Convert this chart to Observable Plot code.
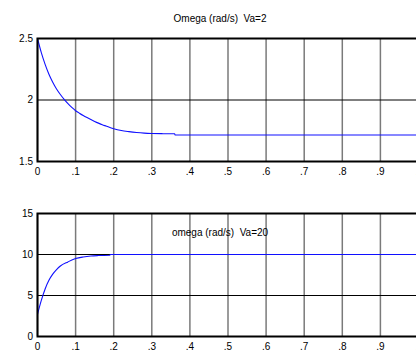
<!DOCTYPE html>
<html>
<head>
<meta charset="utf-8">
<script src="https://cdn.jsdelivr.net/npm/d3@7"></script>
<script src="https://cdn.jsdelivr.net/npm/@observablehq/plot@0.6"></script>
<style>
  html, body { margin: 0; padding: 0; background: #fff; overflow: hidden; width: 416px; height: 352px; }
  svg { display: block; max-width: none !important; }
  svg text { white-space: pre; }
</style>
</head>
<body>
<div id="chart"></div>
<script>
// ---- data ----
const titleTop = "Omega (rad/s)  Va=2";
const titleBottom = "omega (rad/s)  Va=20";

const tTop =     [0,   0.01,  0.02, 0.03, 0.04,  0.05, 0.06,  0.07,  0.08, 0.09, 0.1,   0.11,  0.12,  0.13,  0.14,  0.15,  0.16,  0.17,  0.18,  0.19,  0.2,   0.22,  0.24,  0.26,  0.28,  0.3,   0.33,  0.36,  0.361, 0.6,   1.0];
const omegaTop = [2.5, 2.385, 2.29, 2.21, 2.145, 2.09, 2.045, 2.005, 1.97, 1.94, 1.913, 1.893, 1.874, 1.857, 1.841, 1.826, 1.812, 1.799, 1.788, 1.777, 1.767, 1.752, 1.743, 1.736, 1.731, 1.728, 1.726, 1.725, 1.716, 1.716, 1.716];

const tBottom =     [0,   0.01, 0.02, 0.03, 0.04, 0.05, 0.06, 0.08, 0.1, 0.12, 0.14, 0.16, 0.19, 0.191, 0.6, 1.0];
const omegaBottom = [2.7, 4.4,  5.8,  6.85, 7.6,  8.15, 8.6,  9.1,  9.5, 9.7,  9.82, 9.87, 9.9,  10,    10,  10];

const xTicks = [0, 0.1, 0.2, 0.3, 0.4, 0.5, 0.6, 0.7, 0.8, 0.9, 1];
const xTickLabels = ["0", ".1", ".2", ".3", ".4", ".5", ".6", ".7", ".8", ".9", "1"];
const yTicksTop = [1.5, 2, 2.5];
const yTickLabelsTop = ["1.5", "2", "2.5"];
const yGridTop = [2];
const yTicksBottom = [0, 5, 10, 15];
const yTickLabelsBottom = ["0", "5", "10", "15"];
const yGridBottom = [5, 10];

// ---- build ----
const font = "'Liberation Sans', Arial, sans-serif";
const fs = 10;
const xFmt = d => xTickLabels[xTicks.indexOf(d)];

function panel({t, v, yDomain, yTicks, yLabels, yGrid, title, titleDy, height, marginTop, marginBottom}) {
  const data = t.map((x, i) => ({t: x, v: v[i]}));
  const yFmt = d => yLabels[yTicks.indexOf(d)];
  return Plot.plot({
    width: 424,
    height,
    marginLeft: 37,
    marginRight: 6,
    marginTop,
    marginBottom,
    style: {fontFamily: font, fontSize: fs + "px", background: "#fff", overflow: "visible", color: "#000", maxWidth: "none"},
    x: {domain: [0, 1]},
    y: {domain: yDomain},
    marks: [
      Plot.gridX(xTicks, {stroke: "#7a7a7a", strokeOpacity: 1, strokeWidth: 1.5}),
      Plot.gridY(yGrid, {stroke: "#000", strokeOpacity: 1, strokeWidth: 1}),
      Plot.axisX(xTicks, {tickSize: 0, tickPadding: 6, tickFormat: xFmt, label: null, fontSize: fs, fill: "#000"}),
      Plot.axisY(yTicks, {tickSize: 0, tickPadding: 4.5, tickFormat: yFmt, label: null, fontSize: fs, fill: "#000"}),
      Plot.line(data, {x: "t", y: "v", stroke: "#1010ff", strokeWidth: 1.1, curve: "monotone-x"}),
      Plot.frame({stroke: "#000", strokeWidth: 2}),
      Plot.text([title], {text: d => d, frameAnchor: "top", dx: -8, dy: titleDy, fontSize: fs, fill: "#000"})
    ]
  });
}

const topPanel = panel({
  t: tTop, v: omegaTop, yDomain: [1.5, 2.5], yTicks: yTicksTop, yLabels: yTickLabelsTop, yGrid: yGridTop,
  title: titleTop, titleDy: -24, height: 180, marginTop: 38, marginBottom: 19
});
const bottomPanel = panel({
  t: tBottom, v: omegaBottom, yDomain: [0, 15], yTicks: yTicksBottom, yLabels: yTickLabelsBottom, yGrid: yGridBottom,
  title: titleBottom, titleDy: 15, height: 172, marginTop: 33, marginBottom: 16
});
const root = document.getElementById("chart");
root.appendChild(topPanel);
root.appendChild(bottomPanel);
</script>
</body>
</html>
